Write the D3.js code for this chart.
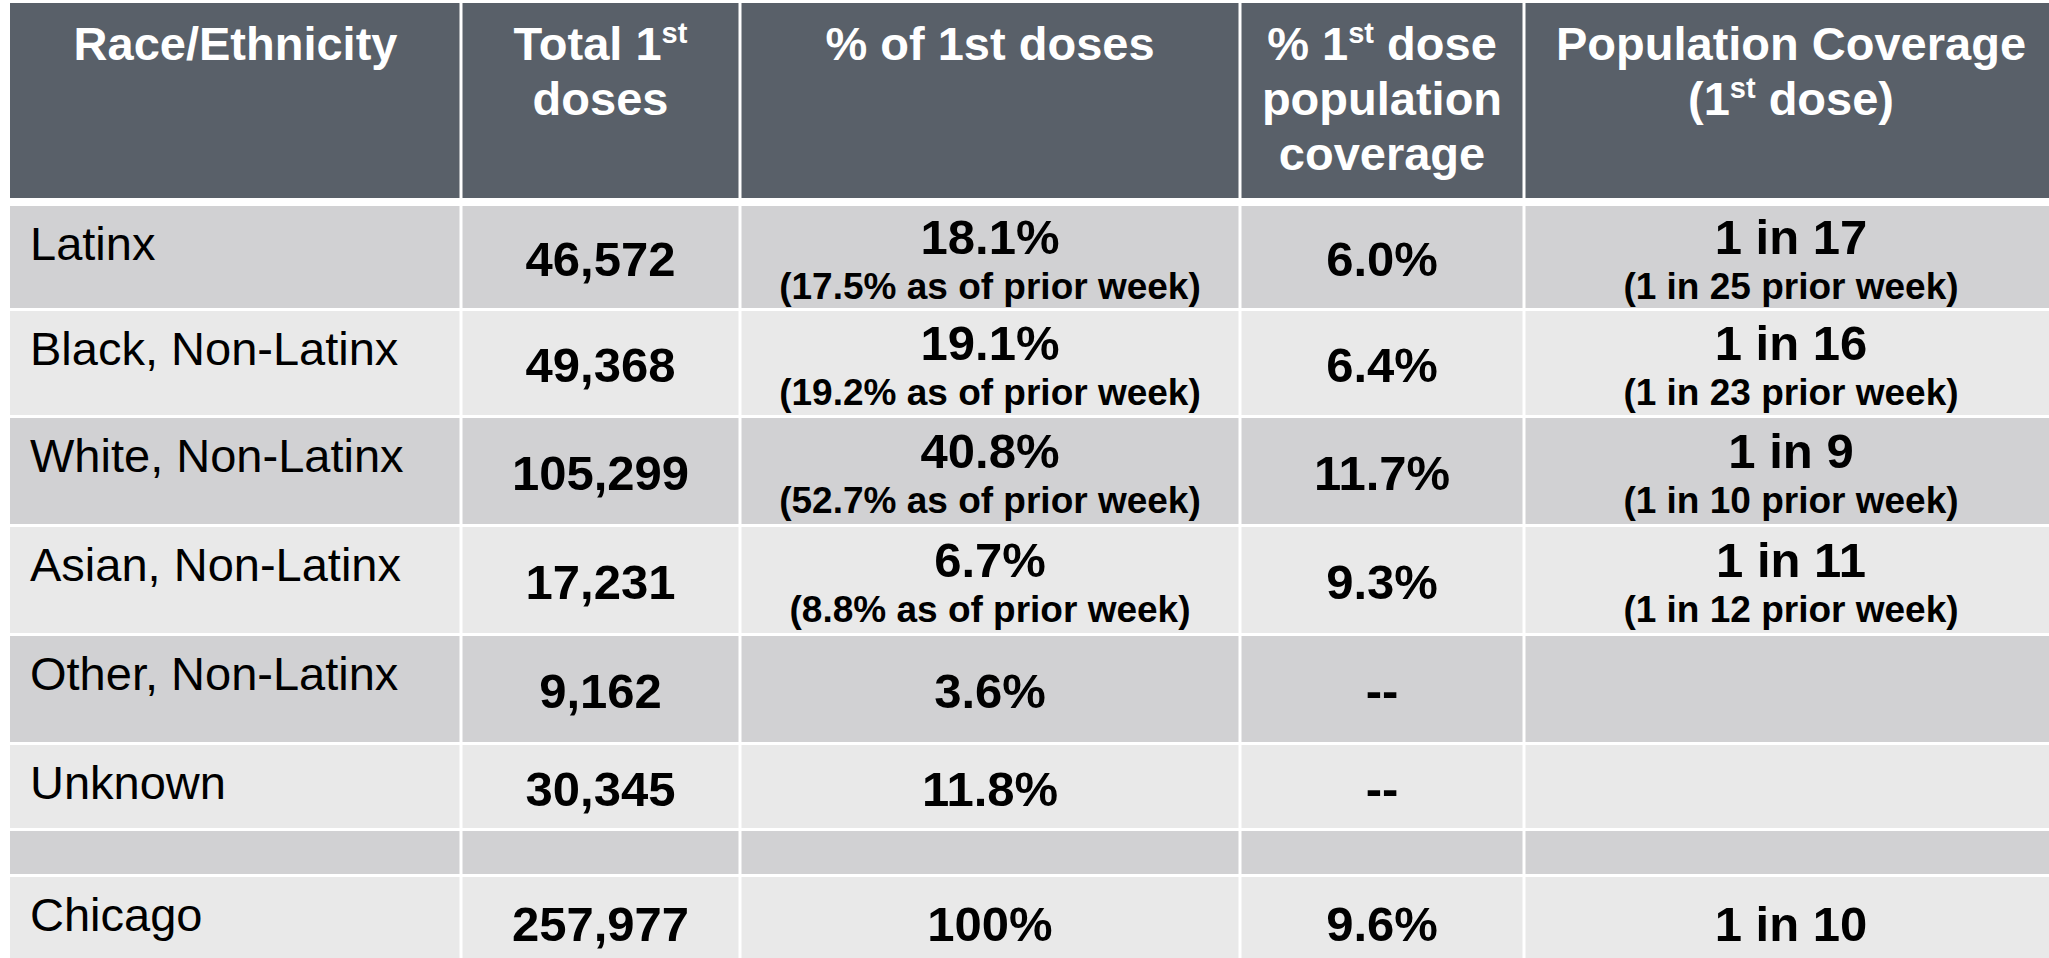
<!DOCTYPE html>
<html>
<head>
<meta charset="utf-8">
<script src="https://cdn.jsdelivr.net/npm/d3@7"></script>
<style>
  body { margin: 0; background: #fff; }
  svg { display: block; }
  text { font-family: "Liberation Sans", Arial, Helvetica, sans-serif; }
</style>
</head>
<body>
<div id="chart"></div>
<script>
// table data
const groups = ["Latinx", "Black, Non-Latinx", "White, Non-Latinx", "Asian, Non-Latinx",
  "Other, Non-Latinx", "Unknown", "", "Chicago"];
const firstDoses = [46572, 49368, 105299, 17231, 9162, 30345, null, 257977];
const pctOfDoses = [18.1, 19.1, 40.8, 6.7, 3.6, 11.8, null, 100];
const pctOfDosesPrior = [17.5, 19.2, 52.7, 8.8, null, null, null, null];
const pctCoverage = [6.0, 6.4, 11.7, 9.3, "--", "--", null, 9.6];
const oneIn = [17, 16, 9, 11, null, null, null, 10];
const oneInPrior = [25, 23, 10, 12, null, null, null, null];

// header lines: [text, superscript, rest]
const headers = [
  [["Race/Ethnicity"]],
  [["Total 1", "st", ""], ["doses"]],
  [["% of 1st doses"]],
  [["% 1", "st", " dose"], ["population"], ["coverage"]],
  [["Population Coverage"], ["(1", "st", " dose)"]]
];

const width = 2049, height = 958;
const colEdges = [10, 461, 740, 1240, 1524, 2058];
const headerTop = 3, headerBottom = 198, bodyTop = 206, gap = 3;
const rowHeights = [102, 104, 106, 106, 106, 83, 43, 90];

const headerFill = "#596069", darkRow = "#d1d1d3", lightRow = "#e9e9e9";

const fmtInt = d3.format(",");
const fmtPct = v => (v === 100 ? "100" : d3.format(".1f")(v)) + "%";

const svg = d3.select("#chart").append("svg")
  .attr("width", width)
  .attr("height", height);

// row positions
const rowTops = groups.map((g, i) => bodyTop + d3.sum(rowHeights.slice(0, i)) + gap * i);
const colCenter = i => (colEdges[i] + colEdges[i + 1]) / 2;

// header background
svg.append("rect")
  .attr("x", colEdges[0])
  .attr("y", headerTop)
  .attr("width", colEdges[5] - colEdges[0])
  .attr("height", headerBottom - headerTop)
  .attr("fill", headerFill);

// body rows
svg.selectAll(".row")
  .data(groups)
  .enter().append("rect")
  .attr("class", "row")
  .attr("x", colEdges[0])
  .attr("y", (d, i) => rowTops[i])
  .attr("width", colEdges[5] - colEdges[0])
  .attr("height", (d, i) => rowHeights[i])
  .attr("fill", (d, i) => i % 2 === 0 ? darkRow : lightRow);

// white column separators
svg.selectAll(".sep")
  .data(colEdges.slice(1, 5))
  .enter().append("line")
  .attr("x1", d => d).attr("x2", d => d)
  .attr("y1", headerTop).attr("y2", height)
  .attr("stroke", "#fff")
  .attr("stroke-width", 3);

// header text
headers.forEach((lines, c) => {
  lines.forEach((parts, l) => {
    const t = svg.append("text")
      .attr("x", colCenter(c))
      .attr("y", 60 + l * 55)
      .attr("text-anchor", "middle")
      .attr("fill", "#fff")
      .attr("font-weight", "bold")
      .attr("font-size", 47);
    t.append("tspan").text(parts[0]);
    if (parts.length > 1) {
      t.append("tspan").attr("font-size", 29).attr("dy", -17).text(parts[1]);
      t.append("tspan").attr("dy", 17).text(parts[2]);
    }
  });
});

// body text
const bold = (x, y, txt, size) => svg.append("text")
  .attr("x", x).attr("y", y)
  .attr("text-anchor", "middle")
  .attr("font-weight", "bold")
  .attr("font-size", size)
  .attr("fill", "#000")
  .text(txt);

groups.forEach((g, i) => {
  const top = rowTops[i], mid = top + rowHeights[i] / 2;
  svg.append("text")
    .attr("x", 30)
    .attr("y", top + 54)
    .attr("font-size", 47)
    .attr("fill", "#000")
    .text(g);

  if (firstDoses[i] != null) bold(colCenter(1), mid + 19, fmtInt(firstDoses[i]), 49);

  if (pctOfDoses[i] != null) {
    if (pctOfDosesPrior[i] != null) {
      bold(colCenter(2), mid - 3, fmtPct(pctOfDoses[i]), 49);
      bold(colCenter(2), mid + 42, "(" + fmtPct(pctOfDosesPrior[i]) + " as of prior week)", 37);
    } else {
      bold(colCenter(2), mid + 19, fmtPct(pctOfDoses[i]), 49);
    }
  }

  if (pctCoverage[i] != null) {
    bold(colCenter(3), mid + 19, typeof pctCoverage[i] === "number" ? fmtPct(pctCoverage[i]) : pctCoverage[i], 49);
  }

  if (oneIn[i] != null) {
    if (oneInPrior[i] != null) {
      bold(colCenter(4), mid - 3, "1 in " + oneIn[i], 49);
      bold(colCenter(4), mid + 42, "(1 in " + oneInPrior[i] + " prior week)", 37);
    } else {
      bold(colCenter(4), mid + 19, "1 in " + oneIn[i], 49);
    }
  }
});
</script>
</body>
</html>
